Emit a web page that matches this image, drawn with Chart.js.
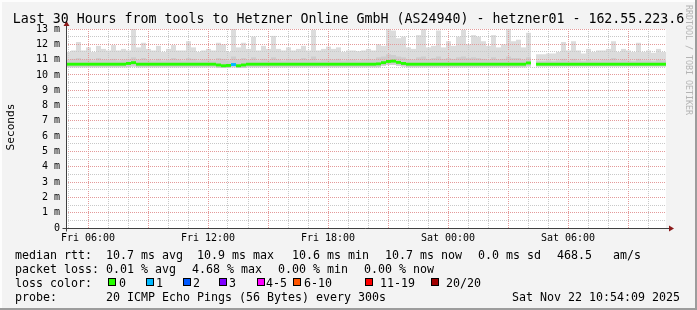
<!DOCTYPE html>
<html>
<head>
<meta charset="utf-8">
<title>SmokePing - hetzner01</title>
<script src="https://cdn.jsdelivr.net/npm/chart.js@4.4.1/dist/chart.umd.min.js"></script>
<style>
    html, body { margin: 0; padding: 0; background: #f3f3f3; }
    #wrap { width: 697px; height: 310px; }
</style>
</head>
<body>
<div id="wrap"><canvas id="smokeChart" width="697" height="310"></canvas></div>
<script>
// ============================================
// DATA
// ============================================
// one slot = 15 minutes, hours counted from Fri 00:00, first slot starts Fri 04:54
const slotStartHour = 4.9;
const slotLength = 0.25;
const rangeEndHour = 34.9;

// top of the light smoke (slowest ping), ms
const smokeTop = [
    11.5, 11.6, 12.15, 11.6, 11.8, 11.5, 11.9, 11.7, 11.6, 11.95, 11.6, 11.7, 11.6, 13.0, 11.8, 12.1, 11.7, 11.6, 11.9, 11.5,
    11.7, 11.95, 11.6, 11.6, 12.2, 11.8, 11.5, 11.6, 11.7, 11.6, 12.1, 12.0, 11.5, 13.0, 11.8, 12.1, 11.7, 12.5, 11.6, 11.9,
    11.7, 12.55, 11.7, 11.6, 11.8, 11.6, 11.7, 11.9, 11.6, 12.95, 11.6, 11.7, 11.85, 11.7, 11.8, 11.5, 11.6, 11.6, 11.55, 11.6,
    11.7, 11.6, 12.0, 11.9, 13.0, 12.9, 12.4, 12.5, 11.8, 11.7, 12.6, 13.0, 11.8, 11.9, 12.9, 11.8, 12.2, 11.9, 12.5, 12.95,
    12.0, 12.6, 12.5, 12.2, 11.9, 12.6, 11.8, 12.0, 13.0, 12.2, 12.3, 11.8, 12.75, null, 11.35, 11.35, 11.4, 11.4, 11.5, 12.15,
    11.6, 12.2, 11.6, 11.4, 11.7, 11.5, 11.6, 11.6, 11.7, 12.2, 11.5, 11.7, 11.6, 11.5, 12.1, 11.5, 11.6, 11.45, 11.7, 11.5
];

// top of the darker inner smoke, ms
const smokeInner = [
    11.0, 11.05, 11.1, 11.0, 11.05, 10.95, 11.1, 11.0, 11.0, 11.05, 10.95, 11.0, 11.05, 11.15, 11.0, 11.1, 11.0, 10.95, 11.05, 10.95,
    11.0, 11.1, 11.0, 10.95, 11.1, 11.05, 10.95, 11.0, 11.05, 10.95, 11.1, 11.05, 10.95, 11.2, 11.0, 11.1, 11.0, 11.15, 10.95, 11.05,
    11.0, 11.15, 11.0, 10.95, 11.05, 11.0, 11.0, 11.1, 11.0, 11.2, 10.95, 11.0, 11.05, 11.0, 11.05, 10.95, 11.0, 11.0, 10.95, 11.0,
    11.05, 11.0, 11.15, 11.2, 11.35, 11.3, 11.2, 11.15, 11.05, 11.0, 11.15, 11.2, 11.05, 11.1, 11.2, 11.05, 11.1, 11.05, 11.15, 11.2,
    11.1, 11.15, 11.1, 11.05, 11.0, 11.15, 11.0, 11.05, 11.2, 11.1, 11.1, 11.0, 11.15, null, 10.9, 10.9, 10.95, 10.9, 10.95, 11.05,
    10.95, 11.05, 10.95, 10.9, 11.0, 10.95, 10.95, 11.0, 11.0, 11.1, 10.95, 11.0, 10.95, 10.9, 11.05, 10.95, 10.95, 10.9, 11.0, 10.95
];

// bottom of the smoke (fastest ping), ms
const smokeLow = [
    10.5, 10.5, 10.5, 10.5, 10.5, 10.5, 10.5, 10.5, 10.5, 10.5, 10.5, 10.5, 10.5, 10.55, 10.5, 10.5, 10.5, 10.5, 10.5, 10.5,
    10.5, 10.5, 10.5, 10.5, 10.5, 10.5, 10.5, 10.5, 10.5, 10.5, 10.45, 10.45, 10.45, 10.5, 10.45, 10.45, 10.5, 10.5, 10.5, 10.5,
    10.5, 10.5, 10.5, 10.5, 10.5, 10.5, 10.5, 10.5, 10.5, 10.5, 10.5, 10.5, 10.5, 10.5, 10.5, 10.5, 10.5, 10.5, 10.5, 10.5,
    10.5, 10.5, 10.5, 10.6, 10.65, 10.65, 10.6, 10.55, 10.5, 10.5, 10.5, 10.5, 10.5, 10.5, 10.5, 10.5, 10.5, 10.5, 10.5, 10.5,
    10.5, 10.5, 10.5, 10.5, 10.5, 10.5, 10.5, 10.5, 10.5, 10.5, 10.5, 10.5, 10.55, null, 10.55, 10.55, 10.55, 10.55, 10.55, 10.55,
    10.55, 10.55, 10.55, 10.55, 10.55, 10.55, 10.55, 10.55, 10.55, 10.55, 10.55, 10.55, 10.55, 10.55, 10.55, 10.55, 10.55, 10.55, 10.55, 10.55
];

// median rtt, ms
const medianRtt = [
    10.7, 10.7, 10.7, 10.7, 10.7, 10.7, 10.7, 10.7, 10.7, 10.7, 10.7, 10.7, 10.75, 10.8, 10.7, 10.7, 10.7, 10.7, 10.7, 10.7,
    10.7, 10.7, 10.7, 10.7, 10.7, 10.7, 10.7, 10.7, 10.7, 10.7, 10.65, 10.6, 10.62, 10.68, 10.6, 10.65, 10.7, 10.7, 10.7, 10.7,
    10.7, 10.7, 10.7, 10.7, 10.7, 10.7, 10.7, 10.7, 10.7, 10.7, 10.7, 10.7, 10.7, 10.7, 10.7, 10.7, 10.7, 10.7, 10.7, 10.7,
    10.7, 10.7, 10.72, 10.8, 10.88, 10.9, 10.82, 10.75, 10.7, 10.7, 10.7, 10.7, 10.7, 10.7, 10.7, 10.7, 10.7, 10.7, 10.7, 10.7,
    10.7, 10.7, 10.7, 10.7, 10.7, 10.7, 10.7, 10.7, 10.7, 10.7, 10.7, 10.7, 10.78, null, 10.7, 10.7, 10.7, 10.7, 10.7, 10.7,
    10.7, 10.7, 10.7, 10.7, 10.7, 10.7, 10.7, 10.7, 10.7, 10.7, 10.7, 10.7, 10.7, 10.7, 10.7, 10.7, 10.7, 10.7, 10.7, 10.7
];

// lost pings (of 20) per slot
const lossCount = [
    0, 0, 0, 0, 0, 0, 0, 0, 0, 0, 0, 0, 0, 0, 0, 0, 0, 0, 0, 0,
    0, 0, 0, 0, 0, 0, 0, 0, 0, 0, 0, 0, 0, 1, 0, 0, 0, 0, 0, 0,
    0, 0, 0, 0, 0, 0, 0, 0, 0, 0, 0, 0, 0, 0, 0, 0, 0, 0, 0, 0,
    0, 0, 0, 0, 0, 0, 0, 0, 0, 0, 0, 0, 0, 0, 0, 0, 0, 0, 0, 0,
    0, 0, 0, 0, 0, 0, 0, 0, 0, 0, 0, 0, 0, 0, 0, 0, 0, 0, 0, 0,
    0, 0, 0, 0, 0, 0, 0, 0, 0, 0, 0, 0, 0, 0, 0, 0, 0, 0, 0, 0
];

// axis labels
const xTickHours = [6, 12, 18, 24, 30];
const xTickLabels = ['Fri 06:00', 'Fri 12:00', 'Fri 18:00', 'Sat 00:00', 'Sat 06:00'];
const yTickValues = [0, 1, 2, 3, 4, 5, 6, 7, 8, 9, 10, 11, 12, 13];
const yTickLabels = ['0', '1 m', '2 m', '3 m', '4 m', '5 m', '6 m', '7 m', '8 m', '9 m', '10 m', '11 m', '12 m', '13 m'];

// legend texts
const titleText = 'Last 30 Hours from tools to Hetzner Online GmbH (AS24940) - hetzner01 - 162.55.223.6';
const rttStats = ['10.7 ms avg', '10.9 ms max', '10.6 ms min', '10.7 ms now', '0.0 ms sd', '468.5', 'am/s'];
const lossStats = ['0.01 % avg', '4.68 % max', '0.00 % min', '0.00 % now'];
const lossBuckets = ['0', '1', '2', '3', '4-5', '6-10', '11-19', '20/20'];
const probeText = '20 ICMP Echo Pings (56 Bytes) every 300s';
const stampText = 'Sat Nov 22 10:54:09 2025';

// ============================================
// STYLE / LAYOUT
// ============================================
const W = 697, H = 310;
const MONO = "'DejaVu Sans Mono', monospace";
const lossColors = ['#26ff00', '#00b8ff', '#0059ff', '#7e00ff', '#ff00ff', '#ff5500', '#ff0000', '#a00000'];
const GRID_MINOR = '#c8c8c8';
const GRID_MAJOR = '#e49a9a';
const MEDIAN_HALF = 0.095;   // ~1.5px half thickness of the median line
const rttCols = [106, 197, 292, 385, 478, 557, 613];
const lossCols = [106, 192, 278, 364];
const swatchX = [108, 146, 183, 219, 257, 293, 365, 431];
const swatchLabelX = [119, 156, 193, 229, 266, 304, 380, 446];

// ============================================
// BUILD DATASETS
// ============================================
function slotCenter(i) {
    return slotStartHour + slotLength * (i + 0.5);
}

function lossBucket(n) {
    if (n <= 3) return n;
    if (n <= 5) return 4;
    if (n <= 10) return 5;
    if (n <= 19) return 6;
    return 7;
}

function floatingBars(lows, highs) {
    const out = [];
    highs.forEach((hi, i) => {
        if (hi == null || lows[i] == null) return;
        out.push({ x: slotCenter(i), y: [lows[i], hi] });
    });
    return out;
}

const medianPoints = [];
medianRtt.forEach((m, i) => {
    if (m == null) return;
    medianPoints.push({ x: slotCenter(i), y: [m - MEDIAN_HALF, m + MEDIAN_HALF], loss: lossCount[i] });
});

const gridHours = [];
for (let h = Math.ceil(slotStartHour); h <= rangeEndHour; h++) gridHours.push(h);
const gridValues = [];
for (let v = 0; v <= 13; v += 0.5) gridValues.push(v);

const barDefaults = {
    grouped: false,
    barPercentage: 1,
    categoryPercentage: 1,
    borderWidth: 0,
    inflateAmount: 0
};

// ============================================
// DECORATION PLUGIN
// ============================================
function drawText(ctx, text, x, y, size, opts = {}) {
    ctx.save();
    ctx.font = `${size}px ${MONO}`;
    ctx.fillStyle = opts.color || '#000';
    ctx.textAlign = opts.align || 'left';
    ctx.textBaseline = opts.baseline || 'alphabetic';
    ctx.translate(x, y);
    if (opts.rotate) ctx.rotate(opts.rotate);
    ctx.fillText(text, 0, 0);
    ctx.restore();
}

const smokeFrame = {
    id: 'smokeFrame',
    beforeDraw(chart) {
        const { ctx, chartArea: a } = chart;
        ctx.save();
        ctx.fillStyle = '#f3f3f3';
        ctx.fillRect(0, 0, W, H);
        ctx.fillStyle = '#fdfdfd';
        ctx.fillRect(0, 0, W, 2);
        ctx.fillRect(0, 0, 2, H);
        ctx.fillStyle = '#9c9c9c';
        ctx.fillRect(0, H - 2, W, 2);
        ctx.fillRect(W - 2, 0, 2, H);
        ctx.fillStyle = '#ffffff';
        ctx.fillRect(a.left, a.top, a.right - a.left, a.bottom - a.top);
        ctx.restore();
    },
    beforeDatasetDraw(chart, args) {
        // grid goes over the smoke but under the median line
        if (args.index !== 0) return;
        chart.scales.x.drawGrid(chart.chartArea);
        chart.scales.y.drawGrid(chart.chartArea);
    },
    afterDraw(chart) {
        const { ctx, chartArea: a } = chart;
        const x0 = Math.round(a.left) + 0.5;
        const y0 = Math.round(a.bottom) + 0.5;

        // axes + arrows
        ctx.save();
        ctx.strokeStyle = '#404040';
        ctx.lineWidth = 1;
        ctx.beginPath();
        ctx.moveTo(x0, y0 + 3);
        ctx.lineTo(x0, a.top - 4);
        ctx.moveTo(x0 - 4, y0);
        ctx.lineTo(a.right + 3, y0);
        ctx.stroke();
        ctx.fillStyle = '#8b1a1a';
        ctx.beginPath();
        ctx.moveTo(x0 - 3, a.top - 3);
        ctx.lineTo(x0 + 3, a.top - 3);
        ctx.lineTo(x0, a.top - 8);
        ctx.closePath();
        ctx.fill();
        ctx.beginPath();
        ctx.moveTo(a.right + 3, y0 - 3);
        ctx.lineTo(a.right + 3, y0 + 3);
        ctx.lineTo(a.right + 8, y0);
        ctx.closePath();
        ctx.fill();
        ctx.restore();

        // title, y title, watermark
        drawText(ctx, titleText, W / 2, 23, 13.29, { align: 'center' });
        drawText(ctx, 'Seconds', 11, 127, 11.2, { align: 'center', baseline: 'middle', rotate: -Math.PI / 2 });
        drawText(ctx, 'RRDTOOL / TOBI OETIKER', 688, 5, 8.3, { baseline: 'middle', rotate: Math.PI / 2, color: '#b4b4b4' });

        // legend block
        const fs = 11.63;
        drawText(ctx, 'median rtt:', 15, 259, fs);
        rttStats.forEach((t, i) => drawText(ctx, t, rttCols[i], 259, fs));
        drawText(ctx, 'packet loss:', 15, 273, fs);
        lossStats.forEach((t, i) => drawText(ctx, t, lossCols[i], 273, fs));
        drawText(ctx, 'loss color:', 15, 287, fs);
        lossBuckets.forEach((t, i) => {
            ctx.save();
            ctx.fillStyle = lossColors[i];
            ctx.fillRect(swatchX[i], 278, 8, 8);
            ctx.strokeStyle = '#000';
            ctx.lineWidth = 1;
            ctx.strokeRect(swatchX[i] + 0.5, 278.5, 7, 7);
            ctx.restore();
            drawText(ctx, t, swatchLabelX[i], 287, fs);
        });
        drawText(ctx, 'probe:', 15, 301, fs);
        drawText(ctx, probeText, 106, 301, fs);
        drawText(ctx, stampText, 512, 301, fs);
    }
};

// ============================================
// CHART
// ============================================
Chart.defaults.font.family = MONO;
Chart.defaults.color = '#000';

new Chart(document.getElementById('smokeChart'), {
    type: 'bar',
    data: {
        datasets: [
            {
                ...barDefaults,
                label: 'median rtt',
                data: medianPoints,
                backgroundColor: c => lossColors[lossBucket(c.raw ? c.raw.loss : 0)],
                order: 0
            },
            {
                ...barDefaults,
                label: 'inner smoke',
                data: floatingBars(smokeLow, smokeInner),
                backgroundColor: '#cdcdcd',
                order: 1
            },
            {
                ...barDefaults,
                label: 'smoke',
                data: floatingBars(smokeLow, smokeTop),
                backgroundColor: '#dcdcdc',
                order: 2
            }
        ]
    },
    options: {
        responsive: false,
        animation: false,
        events: [],
        layout: { padding: { top: 29, right: 31, bottom: 62, left: 0 } },
        plugins: {
            legend: { display: false },
            title: { display: false },
            tooltip: { enabled: false }
        },
        scales: {
            x: {
                type: 'linear',
                offset: false,
                min: slotStartHour,
                max: rangeEndHour,
                afterBuildTicks: s => { s.ticks = gridHours.map(v => ({ value: v })); },
                afterFit: s => { s.height = 20; },
                grid: {
                    offset: false,
                    drawTicks: false,
                    lineWidth: 1,
                    color: c => (c.tick && c.tick.value % 3 === 0) ? GRID_MAJOR : GRID_MINOR
                },
                border: { display: false, dash: [1, 1] },
                ticks: {
                    autoSkip: false,
                    maxRotation: 0,
                    padding: 4,
                    color: '#000',
                    font: { family: MONO, size: 10 },
                    callback: v => {
                        const k = xTickHours.indexOf(v);
                        return k >= 0 ? xTickLabels[k] : '';
                    }
                }
            },
            y: {
                min: 0,
                max: 13,
                afterBuildTicks: s => { s.ticks = gridValues.map(v => ({ value: v })); },
                afterFit: s => { s.width = 66; },
                grid: {
                    drawTicks: false,
                    lineWidth: 1,
                    color: c => (c.tick && Number.isInteger(c.tick.value)) ? GRID_MAJOR : GRID_MINOR
                },
                border: { display: false, dash: [1, 1] },
                ticks: {
                    autoSkip: false,
                    padding: 6,
                    color: '#000',
                    font: { family: MONO, size: 10 },
                    callback: v => {
                        const k = yTickValues.indexOf(v);
                        return k >= 0 ? yTickLabels[k] : '';
                    }
                }
            }
        }
    },
    plugins: [smokeFrame]
});
</script>
</body>
</html>
